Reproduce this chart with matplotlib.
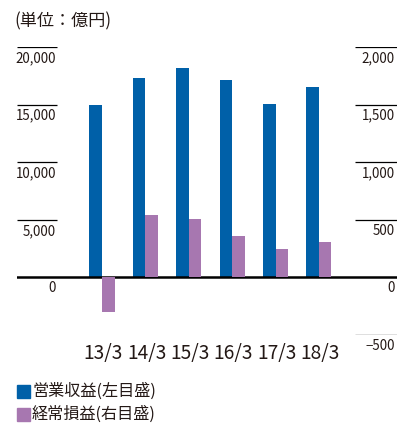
import matplotlib.pyplot as plt
from matplotlib.patches import Rectangle
import matplotlib.transforms as mtransforms
import numpy as np

plt.rcParams['font.family'] = ['Noto Sans CJK JP', 'DejaVu Sans']

years = ['13/3', '14/3', '15/3', '16/3', '17/3', '18/3']
revenue = [15000, 17300, 18150, 17100, 15050, 16500]     # 営業収益 (left axis)
ordinary_profit = [-300, 540, 505, 360, 250, 305]        # 経常損益 (right axis)

left_ticks = [0, 5000, 10000, 15000, 20000]
right_ticks = [-500, 0, 500, 1000, 1500, 2000]

blue = '#0060a8'
purple = '#a777b0'
txt = '#231815'

W, H = 398, 424
fig = plt.figure(figsize=(W / 100, H / 100), dpi=100)
ax = fig.add_axes([17 / W, 1 - 335 / H, 380 / W, 288 / H])
ax2 = ax.twinx()

x = np.arange(len(years))
bw = 0.29
ax.bar(x - bw / 2, revenue, bw, color=blue, zorder=2)
ax2.bar(x + bw / 2, ordinary_profit, bw, color=purple, zorder=2)

ax.set_xlim(-1.96, 6.80)
ax.set_ylim(-5000, 20000)
ax2.set_ylim(-500, 2000)

for a in (ax, ax2):
    for s in a.spines.values():
        s.set_visible(False)
    a.set_xticks([])
    a.set_yticks([])

# zero baseline across the whole width
ax.axhline(0, color='black', lw=1.8, zorder=3)

# short tick lines with labels underneath
lt = ax.get_yaxis_transform()
below = mtransforms.offset_copy(lt, fig=fig, x=-1, y=-11, units='dots')
for v in left_ticks:
    if v != 0:
        ax.hlines(v, 0, 0.105, transform=lt, color='black', lw=0.9)
    ax.text(0.105, v, f'{v:,}', transform=below, ha='right', va='center',
            fontsize=9.6, color=txt)

rt = ax2.get_yaxis_transform()
below2 = mtransforms.offset_copy(rt, fig=fig, x=-2, y=-11, units='dots')
for v in right_ticks:
    if v != 0:
        ax2.hlines(v, 0.889, 1.0, transform=rt, color='black', lw=0.9)
    ax2.text(1.0, v, f'{v:,}'.replace('-', '\u2212'), transform=below2,
             ha='right', va='center', fontsize=9.6, color=txt)

# category labels
xt = ax.get_xaxis_transform()
for i, y in enumerate(years):
    ax.text(i + 0.03, -(353 - 335) / 288, y, transform=xt, ha='center',
            va='center', fontsize=13.8, color=txt)

# unit
fig.text(14 / W, 1 - 21 / H, '(単位：億円)', ha='left', va='center',
         fontsize=12.3, color=txt)

# legend
for yc, c, label in [(391, blue, '営業収益(左目盛)'), (414, purple, '経常損益(右目盛)')]:
    fig.patches.append(Rectangle((17 / W, 1 - (yc + 6.5) / H), 13 / W, 13 / H,
                                 transform=fig.transFigure, color=c))
    fig.text(32 / W, 1 - yc / H, label, ha='left', va='center',
             fontsize=11.6, color=txt)

fig.savefig('out.png', dpi=100)
